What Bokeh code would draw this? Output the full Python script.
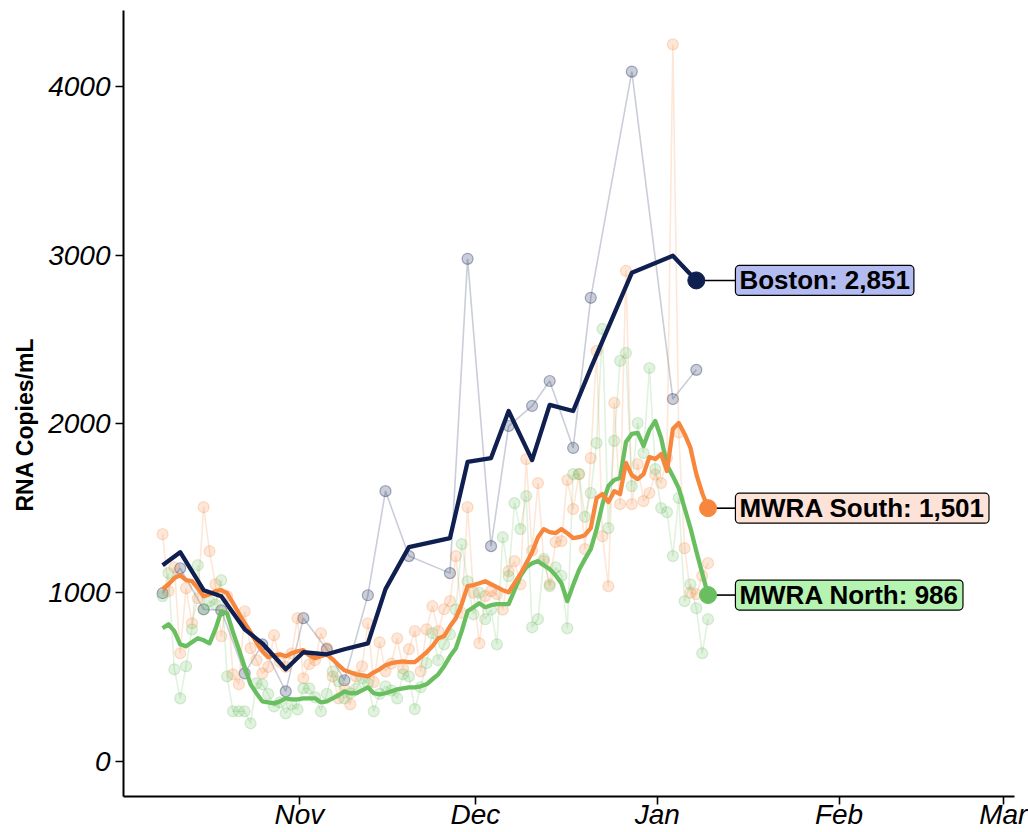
import pandas as pd
from bokeh.plotting import figure
from bokeh.models import FixedTicker, DatetimeTickFormatter, Label, Range1d, Title
from bokeh.embed import file_html
from bokeh.resources import INLINE

# ---------------- data ----------------
mwra_dates = pd.date_range("2020-10-08", "2021-01-09", freq="D")

south_raw = [1347, 1009, 1150, 641, 1027, 819, 967, 1507, 1246, 1050, 742, 980, 516, 457, 890, 671, 600, 522, 560, 748, 590, 560, 640, 849,
             493, 576, 600, 760, 671, 504, 374, 430, 338, 504, 564, 819, 470, 706, 534, 580, 730, 552, 665, 772, 534, 783, 920, 772, 902, 950, 1217, 880, 1507, 1000,
             700, 980, 1009, 991, 900, 1128, 1187, 1050, 1792, 1250, 1650, 1187, 1050, 1300, 1306, 1668, 1496, 1703, 1258, 1798, 2433, 1335, 1038, 2125, 1525, 2908, 1525, 1763, 1543, 1591, 1700,
             1650, 1800, 4250, 1950, 1264, 1000, 991, 1100, 1175]
south_avg = [1021, 1050, 1086, 1104, 1074, 1068, 1027, 979, 991, 1009, 1015, 997, 938, 878, 819, 766, 706, 653, 617, 629, 635, 623, 641, 653,
             659, 629, 611, 623, 635, 605, 570, 540, 528, 516, 510, 504, 528, 546, 570, 582, 588, 593, 588, 588, 617, 647, 682, 730, 742, 801, 849, 932, 1039, 1045,
             1056, 1068, 1050, 1033, 1015, 1003, 1056, 1110, 1175, 1240, 1329, 1377, 1359, 1353, 1377, 1353, 1323, 1329, 1341, 1383, 1561, 1585, 1537, 1602, 1585, 1769, 1697, 1673, 1703, 1804, 1792,
             1822, 1721, 1970, 2006, 1941, 1858, 1703, 1591, 1501]

north_raw = [980, 1116, 546, 374, 564, 783, 1163, 900, 950, 930, 1074, 504, 297, 297, 297, 226, 463, 457, 400, 326, 350, 285, 338, 308,
             433, 433, 380, 297, 400, 534, 475, 374, 404, 430, 492, 463, 297, 400, 445, 420, 374, 516, 504, 310, 440, 582, 760, 600, 694, 754, 900, 1288, 1068, 872,
             1000, 843, 900, 694, 1329, 1098, 1531, 1377, 1573, 795, 843, 1200, 1039, 1150, 1100, 789, 1703, 1703, 1450, 1591, 1887, 2564, 1383, 1900, 2374, 2421, 1632, 2006, 1828, 2332, 1733,
             1502, 1478, 1217, 1561, 950, 1050, 908, 641, 843]
north_avg = [789, 813, 772, 694, 682, 706, 730, 718, 700, 783, 890, 878, 766, 665, 558, 457, 404, 356, 350, 344, 356, 374, 368, 368,
             374, 374, 374, 350, 356, 374, 392, 415, 404, 404, 421, 439, 404, 398, 404, 415, 427, 433, 439, 439, 445, 457, 487, 516, 564, 623, 671, 772, 890, 914,
             938, 914, 926, 932, 932, 932, 1015, 1098, 1151, 1175, 1187, 1163, 1140, 1104, 1056, 950, 1045, 1134, 1199, 1258, 1377, 1525, 1632, 1668, 1680, 1893, 1941, 1947, 1870, 1964, 2018,
             1917, 1757, 1691, 1620, 1502, 1383, 1246, 1116, 986]

boston_dates = pd.to_datetime(["2020-10-08", "2020-10-11", "2020-10-15", "2020-10-18", "2020-10-22", "2020-10-25", "2020-10-29",
                               "2020-11-01", "2020-11-05", "2020-11-08", "2020-11-12", "2020-11-15", "2020-11-19", "2020-11-26",
                               "2020-11-29", "2020-12-03", "2020-12-06", "2020-12-10", "2020-12-13", "2020-12-17", "2020-12-20",
                               "2020-12-27", "2021-01-03", "2021-01-07"])
boston_raw = [997, 1145, 902, 895, 522, 694, 415, 849, 665, 481, 985, 1602, 1217, 1116, 2979, 1276, 1988, 2107, 2255, 1858, 2748, 4089, 2148, 2321]
boston_avg = [1163, 1240, 1015, 979, 783, 700, 546, 647, 635, 665, 700, 1021, 1270, 1324, 1775, 1798, 2077, 1786, 2113, 2077, 2330, 2896, 2997, 2851]

series_names = ["Boston", "MWRA South", "MWRA North"]
tick_months = ["2020-11-01", "2020-12-01", "2021-01-01", "2021-02-01", "2021-03-01"]
tick_labels = ["Nov", "Dec", "Jan", "Feb", "Mar"]
y_ticks = [0, 1000, 2000, 3000, 4000]
y_title = "RNA Copies/mL"

# ---------------- style ----------------
FONT = "Liberation Sans"
C_BOS, C_S, C_N = "#0f1f4f", "#f7873d", "#69bf60"
F_BOS, F_S, F_N = "#b3bcf1", "#fde2d7", "#b5f3b0"
shift = pd.Timedelta(hours=16)

p = figure(width=1028, height=832, x_axis_type="datetime", output_backend="svg", toolbar_location=None,
           x_range=Range1d(pd.Timestamp("2020-10-02"), pd.Timestamp("2021-03-02 22:00")),
           y_range=Range1d(-208, 4451),
           min_border_left=123, min_border_right=14, min_border_top=10, min_border_bottom=0)
p.grid.visible = False
p.outline_line_color = None
p.background_fill_color = "white"

def raw(dates, vals, color, la, fa, pla):
    x = list(pd.DatetimeIndex(dates) + shift)
    p.line(x, vals, line_color=color, line_alpha=la, line_width=1.6)
    p.scatter(x, vals, size=11, fill_color=color, fill_alpha=fa, line_color=color, line_alpha=pla, line_width=1.2)

raw(boston_dates, boston_raw, C_BOS, 0.22, 0.22, 0.35)
raw(mwra_dates, south_raw, C_S, 0.2, 0.2, 0.25)
raw(mwra_dates, north_raw, C_N, 0.2, 0.2, 0.25)

for dates, vals, color in [(mwra_dates, north_avg, C_N), (mwra_dates, south_avg, C_S), (boston_dates, boston_avg, C_BOS)]:
    x = list(pd.DatetimeIndex(dates) + shift)
    p.line(x, vals, line_color=color, line_width=4.3, line_join="round")

label_x = pd.Timestamp("2021-01-14 08:00")
for dates, vals, color, fill, name in [(boston_dates, boston_avg, C_BOS, F_BOS, series_names[0]),
                                       (mwra_dates, south_avg, C_S, F_S, series_names[1]),
                                       (mwra_dates, north_avg, C_N, F_N, series_names[2])]:
    ex = pd.DatetimeIndex(dates)[-1] + shift
    ey = vals[-1]
    p.segment(x0=[ex], y0=[ey], x1=[label_x], y1=[ey], line_color="black", line_width=1.6)
    p.scatter([ex], [ey], size=17, fill_color=color, line_color=color)
    p.add_layout(Label(x=label_x, y=ey, text=f"{name}: {ey:,}", text_font=FONT, text_font_size="26px",
                       text_font_style="bold", text_color="black", text_baseline="middle", text_align="left",
                       background_fill_color=fill, border_line_color="black", border_line_width=1.2,
                       border_radius=4, padding=dict(left=4, right=4, top=0, bottom=0)))

# y-axis title as a side title (allows an offset along the axis)
ttl_kw = dict(text=y_title, align="left", offset=285, text_font=FONT, text_font_size="23px",
              text_font_style="bold", text_color="black")
try:
    ytitle = Title(standoff=15, **ttl_kw)
except Exception:
    ytitle = Title(**ttl_kw)
p.add_layout(ytitle, "left")

# axes
ticks_ms = [pd.Timestamp(t).value // 10**6 for t in tick_months]
p.xaxis.ticker = FixedTicker(ticks=ticks_ms)
p.xaxis.formatter = DatetimeTickFormatter(days="%b", months="%b", years="%b", hours="%b")
p.xaxis.major_label_overrides = {t: l for t, l in zip(ticks_ms, tick_labels)}
p.yaxis.ticker = FixedTicker(ticks=y_ticks)

for ax in (p.xaxis, p.yaxis):
    ax.axis_line_width = 2
    ax.axis_line_color = "black"
    ax.major_tick_line_width = 1.6
    ax.major_tick_line_color = "black"
    ax.major_tick_out = 8
    ax.major_tick_in = 0
    ax.minor_tick_line_color = None
    ax.major_label_text_font = FONT
    ax.major_label_text_font_size = "28px"
    ax.major_label_text_font_style = "italic"
    ax.major_label_text_color = "black"
p.xaxis.major_label_standoff = -6
p.yaxis.major_label_standoff = 5

open("out.html", "w").write(file_html(p, INLINE))
